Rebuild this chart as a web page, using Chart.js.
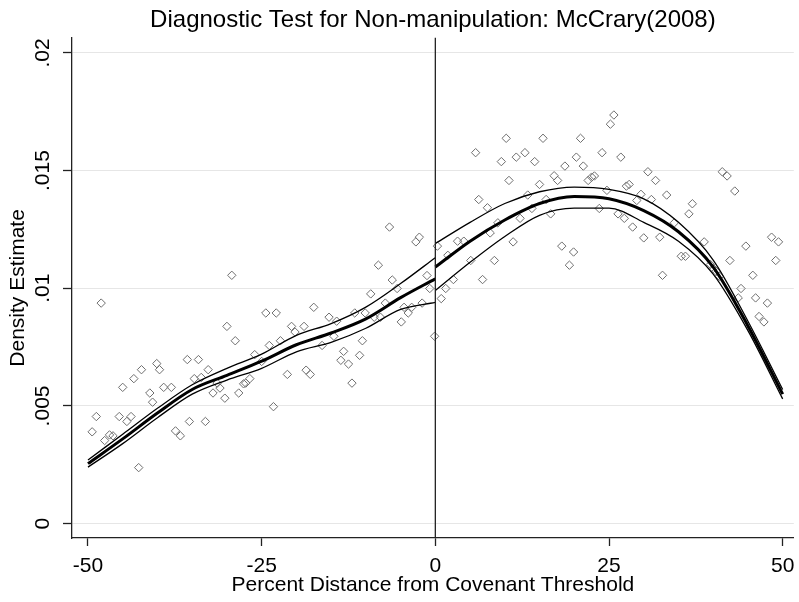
<!DOCTYPE html>
<html>
<head>
<meta charset="utf-8">
<style>
  body { margin: 0; background: #fff; }
  canvas { display: block; }
</style>
<script src="https://cdn.jsdelivr.net/npm/chart.js@4.4.1/dist/chart.umd.min.js"></script>
</head>
<body>
<canvas id="myChart" width="799" height="602"></canvas>
<script>
// binned densities (hollow diamonds)
const binX = [-49.4,-48.8,-48.1,-47.6,-46.9,-46.4,-45.5,-45.0,-44.4,-43.8,-43.4,-42.7,-42.3,-41.1,-40.7,-40.1,-39.7,-39.1,-38.0,-37.4,
  -36.7,-35.7,-35.4,-34.7,-34.1,-33.7,-33.1,-32.7,-32.0,-31.4,-31.0,-30.3,-30.0,-29.3,-28.8,-28.3,-27.6,-27.3,-26.7,-26.0,
  -25.0,-24.4,-23.9,-23.3,-22.9,-22.3,-21.3,-20.7,-20.2,-18.9,-18.6,-18.0,-17.5,-16.3,-15.3,-14.6,-14.2,-13.6,-13.2,-12.5,
  -12.0,-11.6,-10.9,-10.5,-10.1,-9.3,-8.8,-8.2,-7.9,-7.2,-6.6,-6.2,-5.5,-4.9,-4.5,-3.9,-3.4,-2.8,-2.3,-1.9,-1.2,-0.8,-0.1,
  0.3,0.85,1.5,1.8,2.6,3.2,4.1,5.1,5.8,6.25,6.8,7.5,7.9,8.5,9.0,9.5,10.2,10.6,11.2,11.65,12.2,12.9,13.3,13.9,14.3,15.0,
  15.5,15.95,16.6,17.1,17.6,18.2,18.65,19.3,19.9,20.3,20.9,21.3,22.0,22.5,22.9,23.6,24.0,24.7,25.2,25.7,26.3,26.7,27.2,27.5,
  27.9,28.4,29.0,29.6,30.0,30.6,31.1,31.7,32.3,32.7,33.3,34.4,35.4,36.0,36.5,37.0,38.7,39.6,40.0,40.4,40.9,41.3,42.0,42.4,
  43.1,43.6,44.0,44.7,45.7,46.1,46.6,47.3,47.8,48.4,49.0,49.4];
const binY = [.0039,.00455,.00937,.00353,.00377,.00373,.00455,.00579,.00434,.00455,.00616,.00238,.00654,.00555,.00516,.0068,.00654,.00579,.00579,.00394,
  .00373,.00697,.00434,.00616,.00697,.00621,.00434,.00654,.00555,.00597,.00576,.00533,.00838,.01055,.00777,.00555,.00594,.00597,.00616,.00718,
  .00689,.00895,.00757,.00497,.00895,.00777,.00634,.00838,.00814,.00838,.00652,.00634,.00919,.00757,.00877,.00796,.0086,.00694,.00732,.00678,
  .00597,.00895,.00715,.00777,.00895,.00976,.00877,.01098,.00877,.00937,.0126,.01035,.00999,.00857,.00919,.00895,.00919,.01197,.01217,.00937,.01054,.00999,.00796,
  .01179,.00956,.00999,.0114,.01037,.012,.012,.01118,.01576,.01377,.01037,.01342,.01235,.01118,.01278,.01538,.01637,.01458,.01197,.01557,.01297,.01576,.01396,.01339,.01538,.01441,
  .01637,.01377,.01316,.01478,.01458,.01179,.01519,.01098,.01154,.01557,.01637,.01519,.01458,.01472,.01477,.01339,.01576,.01416,.01697,.01736,.01316,.01557,.01297,.01434,
  .01441,.0126,.01373,.01399,.01214,.01495,.01377,.01458,.01217,.01055,.01396,.01278,.01136,.01136,.01316,.01359,.01197,.01101,.01084,.01072,.01051,.01495,.01477,.01118,
  .01413,.00959,.00999,.01179,.01055,.00959,.0088,.00857,.00937,.01217,.01118,.01197];

// local linear density fit + 95% band, left and right of the threshold
const leftX  = [-50,-45,-40,-35,-30,-25,-20,-15,-10,-5,0];
const leftFit = [.00255,.0036,.0047,.0057,.0063,.0069,.0076,.0081,.0087,.0096,.0104];
const leftHi  = [.0027,.0038,.0049,.0059,.0066,.0072,.0080,.0085,.0092,.0102,.0113];
const leftLo  = [.0024,.0034,.0045,.0055,.0061,.0066,.0073,.0077,.0083,.0091,.0094];
const rightX  = [0,5,10,15,20,25,30,35,40,45,50];
const rightFit = [.0109,.0120,.0129,.0136,.0139,.0138,.0133,.0124,.0109,.0084,.0055];
const rightHi  = [.0119,.0128,.0136,.0141,.0143,.0142,.0138,.0128,.0112,.0086,.0057];
const rightLo  = [.0099,.0111,.0122,.0131,.0134,.0134,.0128,.0120,.0106,.0082,.0053];

const xTicks = [-50,-25,0,25,50];
const yTicks = [0,.005,.01,.015,.02];
const yLabels = ["0",".005",".01",".015",".02"];

function pts(xs, ys) {
  return xs.map((x, i) => ({x: x, y: ys[i]}));
}
function curve(xs, ys, w) {
  return {
    type: "line",
    data: pts(xs, ys),
    borderColor: "#000",
    borderWidth: w,
    pointRadius: 0,
    fill: false,
    cubicInterpolationMode: "monotone"
  };
}

const cutLine = {
  id: "cutLine",
  afterDatasetsDraw(chart) {
    const ctx = chart.ctx;
    const xp = chart.scales.x.getPixelForValue(0);
    ctx.save();
    ctx.strokeStyle = "#222";
    ctx.lineWidth = 1.3;
    ctx.beginPath();
    ctx.moveTo(xp, chart.chartArea.top);
    ctx.lineTo(xp, chart.chartArea.bottom);
    ctx.stroke();
    ctx.restore();
  }
};

Chart.defaults.font.family = '"Liberation Sans", Arial, sans-serif';
Chart.defaults.color = "#000";

new Chart("myChart", {
  type: "scatter",
  data: {
    datasets: [
      curve(leftX, leftFit, 3),
      curve(rightX, rightFit, 3),
      curve(leftX, leftHi, 1.3),
      curve(leftX, leftLo, 1.3),
      curve(rightX, rightHi, 1.3),
      curve(rightX, rightLo, 1.3),
      {
        data: pts(binX, binY),
        pointStyle: "rectRot",
        pointRadius: 4.2,
        borderColor: "#6e6e6e",
        backgroundColor: "rgba(0,0,0,0)",
        borderWidth: 1,
        showLine: false
      }
    ]
  },
  options: {
    responsive: false,
    animation: false,
    layout: { padding: { left: 6, right: 0, top: 0, bottom: 4 } },
    plugins: {
      legend: { display: false },
      tooltip: { enabled: false },
      title: {
        display: true,
        fullSize: false,
        text: "Diagnostic Test for Non-manipulation: McCrary(2008)",
        font: { size: 24, weight: "normal" },
        color: "#000",
        padding: { top: 6, bottom: 3 }
      }
    },
    scales: {
      x: {
        type: "linear",
        min: -52.3,
        max: 51.6,
        afterBuildTicks: s => { s.ticks = xTicks.map(v => ({value: v})); },
        afterFit: s => { s.height = 60; s.paddingLeft = 0; s.paddingRight = 0; },
        grid: { drawOnChartArea: false, drawTicks: true, tickLength: 8, tickColor: "#222", tickWidth: 1.3 },
        border: { color: "#222", width: 1.3 },
        ticks: { font: { size: 21 }, padding: 8, color: "#000", maxRotation: 0 },
        title: { display: true, text: "Percent Distance from Covenant Threshold", font: { size: 21 }, padding: { top: 0, bottom: 0 } }
      },
      y: {
        type: "linear",
        min: -0.00061,
        max: 0.02064,
        afterBuildTicks: s => { s.ticks = yTicks.map(v => ({value: v})); },
        afterFit: s => { s.width = 66; s.paddingTop = 0; s.paddingBottom = 0; },
        grid: { color: "#e6e6e6", lineWidth: 1, tickLength: 9, tickColor: "#222", tickWidth: 1.3 },
        border: { color: "#222", width: 1.3 },
        ticks: {
          font: { size: 21 },
          minRotation: 90,
          maxRotation: 90,
          crossAlign: "center",
          padding: -1,
          color: "#000",
          callback: (v, i) => yLabels[i]
        },
        title: { display: true, text: "Density Estimate", font: { size: 21 }, padding: { top: 0, bottom: 0 } }
      }
    }
  },
  plugins: [cutLine]
});
</script>
</body>
</html>
